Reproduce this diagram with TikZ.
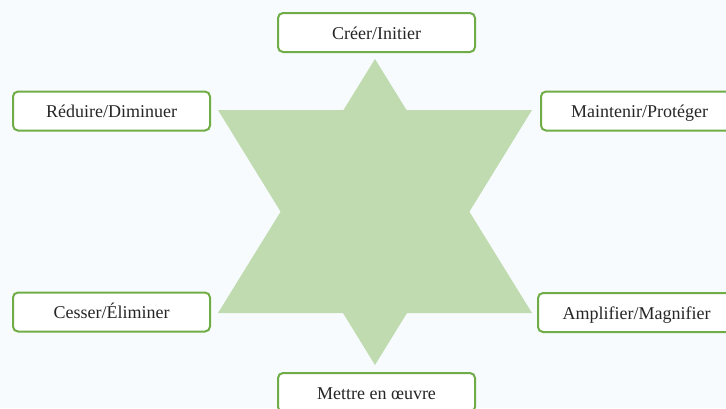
\documentclass[tikz,border=0pt]{standalone}
\usepackage{fontspec}
\setmainfont{Liberation Serif}
\usepackage{xcolor}
\definecolor{bgcol}{HTML}{F7FBFD}
\definecolor{boxgreen}{HTML}{70AD47}
\definecolor{stargreen}{HTML}{C0DBB0}
\tikzset{
    bnode/.style = {rectangle, rounded corners=5pt, draw=boxgreen, line width=2pt, fill=white, minimum width=197pt, minimum height=39pt, inner sep=0pt, text height=13pt, text depth=0pt, font=\fontsize{18}{22}\selectfont, text=black!85},
    starpart/.style = {fill=stargreen, draw=none}
}

\begin{document}
\begin{tikzpicture}[x=1pt, y=-1pt]
\useasboundingbox (0,0) rectangle (726,408);
\clip (0,0) rectangle (726,408);
\fill[bgcol] (0,0) rectangle (726,408);
% star
\fill[starpart] (375,59) -- (532,313) -- (218,313) -- cycle;
\fill[starpart] (375,365) -- (218,110) -- (532,110) -- cycle;
% boxes
\node[bnode] (create) at (376.5,32.5) {Créer/Initier};
\node[bnode] (reduce) at (111.5,111) {Réduire/Diminuer};
\node[bnode] (maintain) at (639.5,111) {Maintenir/Protéger};
\node[bnode] (cease) at (111.5,312) {Cesser/Éliminer};
\node[bnode] (amplify) at (636.5,312.5) {Amplifier/Magnifier};
\node[bnode] (implement) at (376.5,392.5) {Mettre en œuvre};
\end{tikzpicture}
\end{document}
